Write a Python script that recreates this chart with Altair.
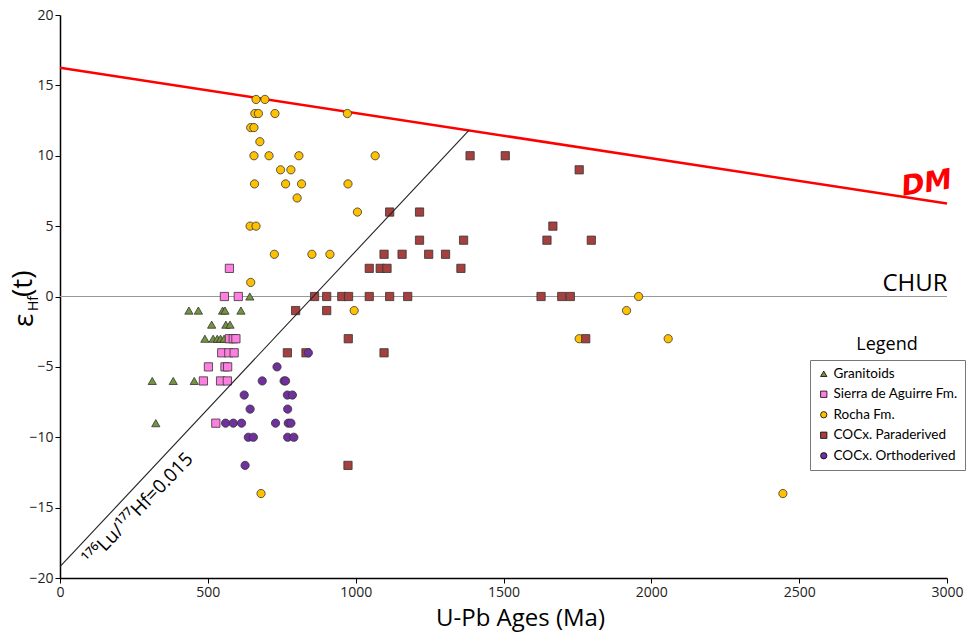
import altair as alt
import pandas as pd

groups = ["Granitoids", "Sierra de Aguirre Fm.", "Rocha Fm.", "COCx. Paraderived", "COCx. Orthoderived"]
colors = ["#77933C", "#FF7FE0", "#FFC000", "#A5403E", "#7030A0"]
shapes = ["triangle-up", "square", "circle", "square", "circle"]

gran_age = [642, 436, 468, 550, 558, 612, 513, 561, 575, 490, 518, 532, 543, 555, 312, 383, 454, 324]
gran_eps = [0, -1, -1, -1, -1, -1, -2, -2, -2, -3, -3, -3, -3, -3, -6, -6, -6, -9]

sierra_age = [573, 556, 603, 573, 586, 595, 547, 571, 589, 502, 558, 567, 485, 543, 566, 527]
sierra_eps = [2, 0, 0, -3, -3, -3, -4, -4, -4, -5, -5, -5, -6, -6, -6, -9]

rocha_age = [663, 693, 659, 671, 727, 972, 645, 656, 676, 656, 707, 808, 1066, 746, 781, 658, 763, 817,
             974, 802, 1006, 643, 663, 725, 852, 913, 645, 995, 1957, 1916, 1756, 2057, 680, 2445]
rocha_eps = [14, 14, 13, 13, 13, 13, 12, 12, 11, 10, 10, 10, 10, 9, 9, 8, 8, 8,
             8, 7, 6, 5, 5, 3, 3, 3, 1, -1, 0, -1, -3, -3, -14, -14]

para_age = [1387, 1506, 1756, 1115, 1216, 1667, 1216, 1365, 1647, 1797, 1096, 1157, 1247, 1304, 1046, 1083,
            1106, 1356, 861, 902, 953, 976, 1046, 1115, 1176, 1627, 1697, 1726, 797, 902, 975, 1778, 769,
            832, 1096, 974]
para_eps = [10, 10, 9, 6, 6, 5, 4, 4, 4, 4, 3, 3, 3, 3, 2, 2,
            2, 2, 0, 0, 0, 0, 0, 0, 0, 0, 0, 0, -1, -1, -3, -3, -4,
            -4, -4, -12]

ortho_age = [840, 734, 684, 758, 763, 623, 769, 786, 643, 770, 560, 586, 614, 729, 772, 781, 637, 654, 770, 791, 626]
ortho_eps = [-4, -5, -6, -6, -6, -7, -7, -7, -8, -8, -9, -9, -9, -9, -9, -9, -10, -10, -10, -10, -12]

dm_age = [0, 3000]
dm_eps = [16.25, 6.6]
chur_age = [0, 3000]
chur_eps = [0, 0]
lu_age = [0, 1383]
lu_eps = [-19.2, 11.8]

rows = []
for g, xs_, ys_ in zip(groups,
                       [gran_age, sierra_age, rocha_age, para_age, ortho_age],
                       [gran_eps, sierra_eps, rocha_eps, para_eps, ortho_eps]):
    for a, e in zip(xs_, ys_):
        rows.append({"group": g, "age": a, "eps": e})
pts = pd.DataFrame(rows)
pts["idx"] = range(len(pts))

xs = alt.Scale(domain=[0, 3000], nice=False)
ys = alt.Scale(domain=[-20, 20], nice=False)

xaxis = alt.Axis(values=[0, 500, 1000, 1500, 2000, 2500, 3000], format="d", title="U-Pb Ages (Ma)",
                 titleFontSize=24, titleFont="Open Sans", titleFontWeight="normal", titleColor="black",
                 titlePadding=7, titleX=460, labelFont="Open Sans", labelFontSize=14, labelColor="#222",
                 domainColor="black", domainWidth=1.5, tickColor="black", tickSize=5, grid=False, labelFlush=False)
yaxis = alt.Axis(values=[-20, -15, -10, -5, 0, 5, 10, 15, 20], format="d", title=None,
                 labelFont="Open Sans", labelFontSize=14, labelColor="#222", labelPadding=2,
                 domainColor="black", domainWidth=1.5, tickColor="black", tickSize=5, grid=False, labelFlush=False)

def line_df(a, e):
    return pd.DataFrame({"age": a, "eps": e})

chur = alt.Chart(line_df(chur_age, chur_eps)).mark_line(color="#999999", strokeWidth=1.2).encode(
    x=alt.X("age:Q", scale=xs, axis=xaxis), y=alt.Y("eps:Q", scale=ys, axis=yaxis))
dm = alt.Chart(line_df(dm_age, dm_eps)).mark_line(color="#FF0000", strokeWidth=2.5).encode(
    x=alt.X("age:Q", scale=xs), y=alt.Y("eps:Q", scale=ys))
lu = alt.Chart(line_df(lu_age, lu_eps)).mark_line(color="#222222", strokeWidth=1.1).encode(
    x=alt.X("age:Q", scale=xs), y=alt.Y("eps:Q", scale=ys))

leg = alt.Legend(orient="none", legendX=750, legendY=345, title=None, strokeColor="#777777",
                 fillColor="white", padding=7, labelFont="Lato", labelFontSize=13.5, labelColor="black",
                 symbolSize=40, rowPadding=5.5, symbolStrokeColor="black", symbolStrokeWidth=0.8,
                 labelOffset=3, cornerRadius=0)

points = alt.Chart(pts).mark_point(filled=True, opacity=1, stroke="#333333", strokeWidth=0.8, size=68).encode(
    x=alt.X("age:Q", scale=xs),
    y=alt.Y("eps:Q", scale=ys),
    color=alt.Color("group:N", scale=alt.Scale(domain=groups, range=colors), legend=leg),
    shape=alt.Shape("group:N", scale=alt.Scale(domain=groups, range=shapes), legend=leg),
    order=alt.Order("idx:Q"),
)

ann = pd.DataFrame({
    "age": [2932, 2892, 265],
    "eps": [8.0, 0.92, -15.1],
    "label": ["DM", "CHUR", "¹⁷⁶Lu/¹⁷⁷Hf=0.015"],
})
dm_t = alt.Chart(ann.iloc[[0]]).mark_text(color="#FF0000", fontSize=28, fontWeight="bold", fontStyle="italic",
                                         font="DejaVu Sans", angle=351, align="center", baseline="middle").encode(
    x=alt.X("age:Q", scale=xs), y=alt.Y("eps:Q", scale=ys), text="label:N")
chur_t = alt.Chart(ann.iloc[[1]]).mark_text(color="black", fontSize=24, font="Open Sans",
                                           align="center", baseline="middle").encode(
    x=alt.X("age:Q", scale=xs), y=alt.Y("eps:Q", scale=ys), text="label:N")
lu_t = alt.Chart(ann.iloc[[2]]).mark_text(color="black", fontSize=19, font="Open Sans", angle=314,
                                         align="center", baseline="middle").encode(
    x=alt.X("age:Q", scale=xs), y=alt.Y("eps:Q", scale=ys), text="label:N")

one = pd.DataFrame({"k": [0]})
eps_t = alt.Chart(one).mark_text(text="ε", fontSize=28, font="Open Sans", angle=270, align="left",
                                 baseline="alphabetic", color="black").encode(
    x=alt.value(-27), y=alt.value(312))
hf_t = alt.Chart(one).mark_text(text="Hf", fontSize=14, font="Open Sans", angle=270, align="left",
                                baseline="alphabetic", color="black").encode(
    x=alt.value(-22), y=alt.value(296))
t_t = alt.Chart(one).mark_text(text="(t)", fontSize=28, font="Open Sans", angle=270, align="left",
                               baseline="alphabetic", color="black").encode(
    x=alt.value(-28), y=alt.value(282))
legend_t = alt.Chart(one).mark_text(text="Legend", fontSize=18, font="Open Sans", align="center",
                                    baseline="middle", color="black").encode(
    x=alt.value(827), y=alt.value(330))

chart = alt.layer(chur, dm, points, lu, dm_t, chur_t, lu_t, eps_t, hf_t, t_t, legend_t).properties(
    width=887, height=563,
    padding={"left": 60, "top": 15, "right": 32, "bottom": 56},
    autosize=alt.AutoSizeParams(type="none"),
    background="white",
).configure_view(stroke=None)

chart.save("out.html", embed_options={"renderer": "svg", "actions": False})
